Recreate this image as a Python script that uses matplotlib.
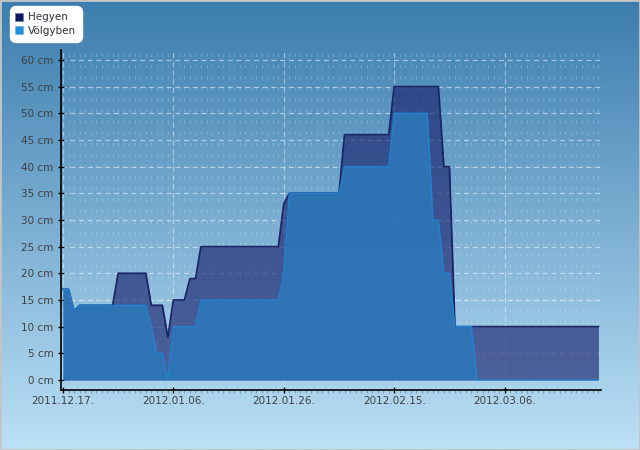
import numpy as np
import pandas as pd
import matplotlib
matplotlib.use("Agg")
import matplotlib.pyplot as plt
import matplotlib.dates as mdates
from matplotlib.lines import Line2D
from matplotlib.patches import Rectangle

# ---- data ----
start_date = "2011-12-17"
hegyen = [17, 17, 13, 14, 14, 14, 14, 14, 14, 14,
          20, 20, 20, 20, 20, 20, 14, 14, 14, 8,
          15, 15, 15, 19, 19, 25, 25, 25, 25, 25,
          25, 25, 25, 25, 25, 25, 25, 25, 25, 25,
          33, 35, 35, 35, 35, 35, 35, 35, 35, 35,
          35, 46, 46, 46, 46, 46, 46, 46, 46, 46,
          55, 55, 55, 55, 55, 55, 55, 55, 55, 40,
          40, 10, 10, 10, 10, 10, 10, 10, 10, 10,
          10, 10, 10, 10, 10, 10, 10, 10, 10, 10,
          10, 10, 10, 10, 10, 10, 10, 10]
volgyben = [17, 17, 13, 14, 14, 14, 14, 14, 14, 14,
            14, 14, 14, 14, 14, 14, 10, 5, 5, 0,
            10, 10, 10, 10, 10, 15, 15, 15, 15, 15,
            15, 15, 15, 15, 15, 15, 15, 15, 15, 15,
            20, 35, 35, 35, 35, 35, 35, 35, 35, 35,
            35, 40, 40, 40, 40, 40, 40, 40, 40, 40,
            50, 50, 50, 50, 50, 50, 50, 30, 30, 20,
            20, 10, 10, 10, 10, 0, 0, 0, 0, 0,
            0, 0, 0, 0, 0, 0, 0, 0, 0, 0,
            0, 0, 0, 0, 0, 0, 0, 0]
series_names = ["Hegyen", "Völgyben"]
x_tick_labels = ["2011.12.17.", "2012.01.06.", "2012.01.26.", "2012.02.15.", "2012.03.06."]
y_ticks = [0, 5, 10, 15, 20, 25, 30, 35, 40, 45, 50, 55, 60]
y_tick_labels = [f"{v} cm" for v in y_ticks]

dates = pd.date_range(start_date, periods=len(hegyen), freq="D")
tick_dates = [pd.to_datetime(s, format="%Y.%m.%d.") for s in x_tick_labels]

# ---- figure ----
W, H = 640, 450
fig = plt.figure(figsize=(6.4, 4.5), dpi=100)

# background gradient
bg = fig.add_axes([0, 0, 1, 1], zorder=-10)
top = np.array([0x3b, 0x7d, 0xae]) / 255
bot = np.array([0xbc, 0xe0, 0xf6]) / 255
t = np.linspace(0, 1, 256)[:, None]
grad = top[None, :] * (1 - t) + bot[None, :] * t
bg.imshow(grad[:, None, :], aspect="auto", extent=[0, 1, 0, 1])
bg.set_axis_off()

ax = fig.add_axes([61 / W, 1 - 390 / H, 540 / W, 340 / H])
ax.set_facecolor("none")

x0 = mdates.date2num(dates[0])
ax.set_xlim(x0 - 0.36, x0 + 97.46)
ax.set_ylim(-1.875, 61.875)

# grid
for d in dates:
    ax.axvline(d, color="white", lw=0.8, alpha=0.2, ls=(0, (3, 7)), zorder=1)
for yv in y_ticks:
    ax.axhline(yv, color="white", lw=0.9, alpha=0.5, ls=(0, (4, 3)), zorder=1.5)
for td in tick_dates:
    ax.axvline(td, color="white", lw=0.9, alpha=0.4, ls=(0, (4, 3)), zorder=1.5)

# series
h_fill = (0x1a / 255, 0x23 / 255, 0x6e / 255)
ax.fill_between(dates, 0, hegyen, color=h_fill, alpha=0.65, lw=0, zorder=2)
ax.plot(dates, hegyen, color="#1b2566", lw=1.3, zorder=2.2)
ax.fill_between(dates, 0, volgyben, color="#2d76b7", alpha=0.94, lw=0, zorder=3)
ax.plot(dates, volgyben, color="#1f82d2", lw=1.0, zorder=3.2)

# axes styling
for s in ["top", "right"]:
    ax.spines[s].set_visible(False)
ax.spines["left"].set_color("black")
ax.spines["bottom"].set_color("black")
ax.spines["left"].set_linewidth(1.2)
ax.spines["bottom"].set_linewidth(1.2)

ax.set_yticks(y_ticks)
ax.set_yticklabels(y_tick_labels)
ax.set_xticks(tick_dates)
ax.set_xticklabels(x_tick_labels)
ax.set_xticks(dates, minor=True)
ax.tick_params(axis="both", which="major", direction="inout", length=5, width=1,
               color="black", labelsize=7.5, labelcolor="#404040")
ax.tick_params(axis="y", pad=3)
ax.tick_params(axis="x", pad=2)
ax.tick_params(axis="x", which="minor", direction="out", length=2.5, width=0.8,
               color="#7a9ab0")

# legend
handles = [
    Line2D([], [], marker="s", ls="", color="#0d1763", markersize=5.5,
           markeredgecolor="#6a7aa0", markeredgewidth=0.5),
    Line2D([], [], marker="s", ls="", color="#1c90d8", markersize=5.5,
           markeredgecolor="#7ab0d8", markeredgewidth=0.5),
]
leg = fig.legend(handles, series_names, loc="upper left",
                 bbox_to_anchor=(10 / W, 1 - 6 / H), frameon=True, fancybox=True,
                 facecolor="white", edgecolor="white", framealpha=1,
                 fontsize=7.5, handlelength=0.6, handletextpad=0.5,
                 borderpad=0.6, labelspacing=0.35, borderaxespad=0)
leg.get_frame().set_boxstyle("round", pad=0, rounding_size=0.6)
for txt in leg.get_texts():
    txt.set_color("#303040")

# border
fig.patches.append(Rectangle((0, 0), 1, 1, transform=fig.transFigure, fill=False,
                             edgecolor="#c4c4c4", lw=2))

fig.savefig("out.png", dpi=100)
